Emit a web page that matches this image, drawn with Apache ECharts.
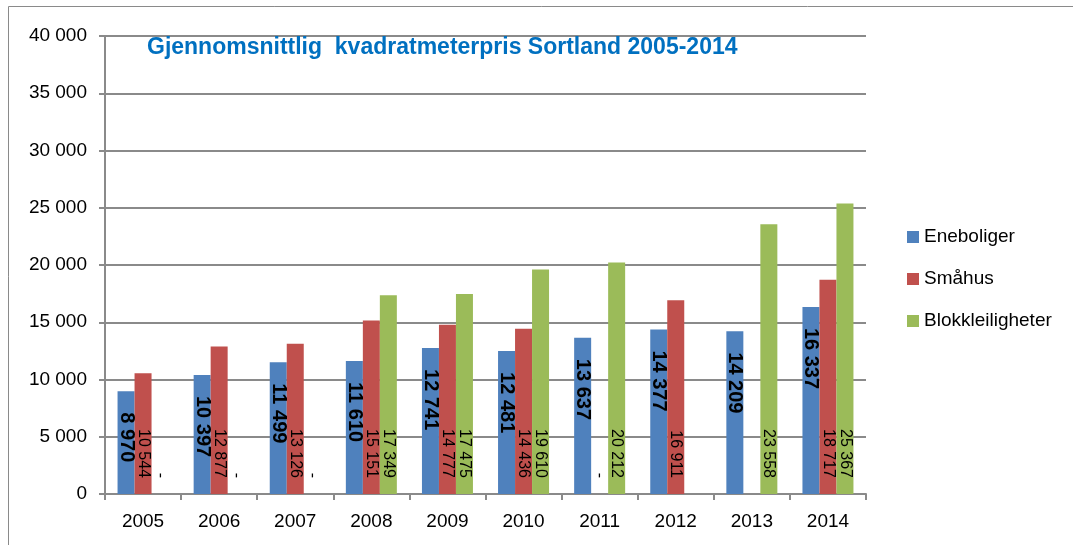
<!DOCTYPE html>
<html>
<head>
<meta charset="utf-8">
<title>Gjennomsnittlig kvadratmeterpris Sortland 2005-2014</title>
<script src="https://cdn.jsdelivr.net/npm/echarts@6/dist/echarts.min.js"></script>
<style>
  html, body { margin: 0; padding: 0; background: #fff; }
  #chart { width: 1073px; height: 545px; }
</style>
</head>
<body>
<div id="chart"></div>
<script>
// kategorier og verdier lest av figuren; 0 vises som "-", null = ingen søyle
var years = ['2005', '2006', '2007', '2008', '2009', '2010', '2011', '2012', '2013', '2014'];
var eneboliger = [8970, 10397, 11499, 11610, 12741, 12481, 13637, 14377, 14209, 16337];
var smahus = [10544, 12877, 13126, 15151, 14777, 14436, 0, 16911, null, 18717];
var blokk = [0, 0, 0, 17349, 17475, 19610, 20212, null, 23558, 25367];
var yTicks = { min: 0, max: 40000, step: 5000 };

var FONT = 'Liberation Sans, Arial, sans-serif';

function fmtNum(n) {
  return String(n).replace(/\B(?=(\d{3})+(?!\d))/g, ' ');
}

function labelFmt(p) {
  if (p.value === 0) return '-';
  return fmtNum(p.value);
}

// rød og grønn: tekst nederst i søylen, lest ovenfra og ned
var baseLabel = {
  show: true,
  position: 'insideBottom',
  distance: 16,
  rotate: -90,
  align: 'right',
  verticalAlign: 'middle',
  color: '#000',
  fontFamily: FONT,
  fontSize: 16,
  formatter: labelFmt
};

var chart = echarts.init(document.getElementById('chart'), null, { renderer: 'canvas' });

chart.setOption({
  animation: false,
  title: {
    text: 'Gjennomsnittlig  kvadratmeterpris Sortland 2005-2014',
    left: 147,
    top: 36,
    padding: 0,
    textStyle: { color: '#0070C0', fontFamily: FONT, fontSize: 23, fontWeight: 'bold' }
  },
  legend: {
    orient: 'vertical',
    left: 907,
    top: 227,
    padding: 0,
    itemWidth: 12,
    itemHeight: 12,
    itemGap: 22,
    icon: 'rect',
    textStyle: { color: '#000', fontFamily: FONT, fontSize: 19, lineHeight: 20 },
    data: ['Eneboliger', 'Småhus', 'Blokkleiligheter']
  },
  graphic: [{
    type: 'rect',
    shape: { x: 8.5, y: 6.5, width: 1200, height: 700 },
    style: { fill: 'none', stroke: '#8a8a8a', lineWidth: 1 },
    silent: true
  }],
  grid: { left: 105, right: 207, top: 36, bottom: 51 },
  xAxis: {
    type: 'category',
    data: years,
    axisLine: { lineStyle: { color: '#8a8a8a', width: 2 } },
    axisTick: { show: true, length: 6, lineStyle: { color: '#8a8a8a', width: 2 } },
    axisLabel: { color: '#000', fontFamily: FONT, fontSize: 19, margin: 18 }
  },
  yAxis: {
    type: 'value',
    min: yTicks.min,
    max: yTicks.max,
    interval: yTicks.step,
    axisLine: { show: true, lineStyle: { color: '#8a8a8a', width: 2 } },
    axisTick: { show: true, length: 6, lineStyle: { color: '#8a8a8a', width: 2 } },
    splitLine: { show: true, lineStyle: { color: '#8a8a8a', width: 2 } },
    axisLabel: { color: '#000', fontFamily: FONT, fontSize: 19, margin: 18, formatter: fmtNum }
  },
  series: [
    {
      name: 'Eneboliger',
      type: 'bar',
      data: eneboliger,
      barWidth: 17,
      barGap: '0%',
      itemStyle: { color: '#4F81BD' },
      label: {
        show: true,
        position: 'insideTop',
        distance: 21,
        rotate: -90,
        align: 'left',
        verticalAlign: 'middle',
        color: '#000',
        fontFamily: FONT,
        fontSize: 20,
        fontWeight: 'bold',
        formatter: labelFmt
      }
    },
    {
      name: 'Småhus',
      type: 'bar',
      data: smahus,
      barWidth: 17,
      barGap: '0%',
      itemStyle: { color: '#C0504D' },
      label: baseLabel
    },
    {
      name: 'Blokkleiligheter',
      type: 'bar',
      data: blokk,
      barWidth: 17,
      barGap: '0%',
      itemStyle: { color: '#9BBB59' },
      label: baseLabel
    }
  ]
});
</script>
</body>
</html>
